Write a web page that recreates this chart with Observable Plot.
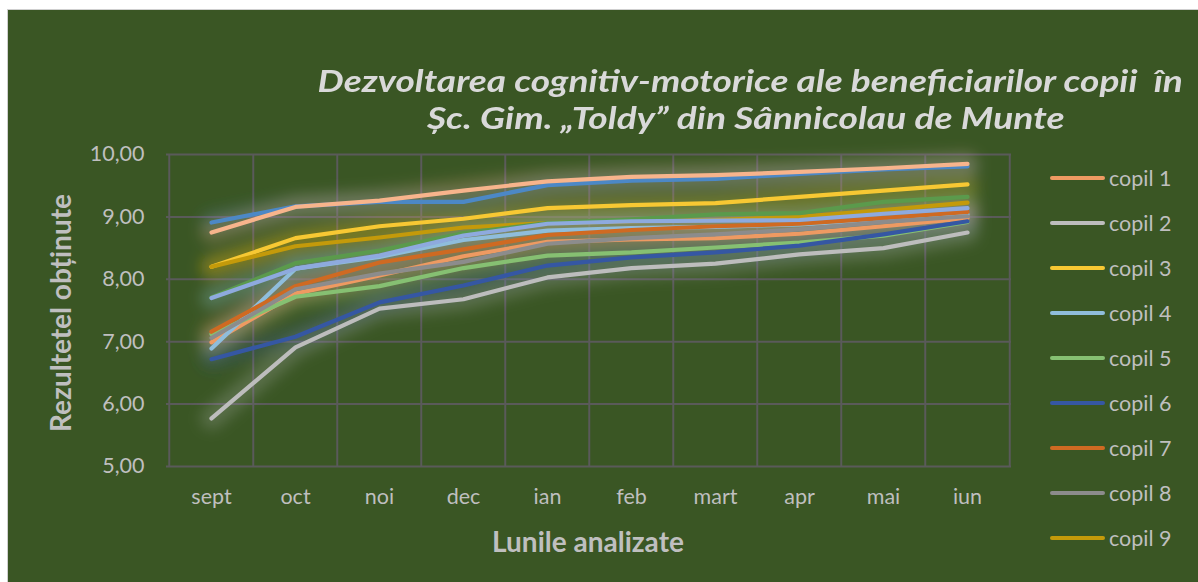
<!DOCTYPE html>
<html>
<head>
<meta charset="utf-8">
<script src="https://cdn.jsdelivr.net/npm/d3@7"></script>
<script src="https://cdn.jsdelivr.net/npm/@observablehq/plot@0.6"></script>
<style>
  html, body { margin: 0; padding: 0; background: #ffffff; }
  body { width: 1198px; height: 582px; overflow: hidden; position: relative; font-family: Lato, "Open Sans", sans-serif; }
  #chart { position: absolute; left: 7px; top: 9px; width: 1191px; height: 573px; background: #3a5624;
           border-left: 1px solid #cfcfcf; border-top: 1px solid #cfcfcf; box-sizing: border-box; }
  #plot { position: absolute; left: 0; top: 0; }
  .tline { position: absolute; color: #d9d9d9; font-size: 31px; font-weight: bold; font-style: italic;
           white-space: nowrap; line-height: 37px; transform-origin: 50% 50%; }
  .axtitle { position: absolute; color: #bfbfbf; font-size: 28px; font-weight: bold; white-space: nowrap;
             transform: translate(-50%, -50%); }
  #ytitle { left: 52px; top: 303px; transform: translate(-50%, -50%) rotate(-90deg); }
  #xtitle { left: 580px; top: 531px; }
  .leg { position: absolute; left: 1042px; height: 26px; display: flex; align-items: center; color: #bfbfbf; font-size: 21.5px; }
  .leg .sw { width: 55px; height: 4px; border-radius: 2px; margin-right: 4px; }
</style>
</head>
<body>
<div id="chart">
  <div id="plot"></div>
  <div id="t1" class="tline">Dezvoltarea cognitiv-motorice ale beneficiarilor copii &nbsp;în</div>
  <div id="t2" class="tline">Șc. Gim. „Toldy” din Sânnicolau de Munte</div>
  <div id="ytitle" class="axtitle">Rezultetel obținute</div>
  <div id="xtitle" class="axtitle">Lunile analizate</div>
</div>
<script>
// ---- data ----
const months = ["sept", "oct", "noi", "dec", "ian", "feb", "mart", "apr", "mai", "iun"];
const yTicks = [5, 6, 7, 8, 9, 10];

const copil1  = [6.99, 7.77, 8.06, 8.37, 8.60, 8.64, 8.66, 8.73, 8.85, 8.98];
const copil2  = [5.77, 6.91, 7.53, 7.68, 8.03, 8.18, 8.25, 8.40, 8.50, 8.75];
const copil3  = [8.20, 8.66, 8.85, 8.97, 9.14, 9.19, 9.22, 9.32, 9.42, 9.52];
const copil4  = [6.89, 8.17, 8.36, 8.63, 8.78, 8.82, 8.84, 8.88, 8.96, 9.04];
const copil5  = [7.12, 7.72, 7.89, 8.18, 8.38, 8.43, 8.51, 8.59, 8.70, 8.92];
const copil6  = [6.72, 7.08, 7.63, 7.90, 8.22, 8.35, 8.43, 8.54, 8.72, 8.93];
const copil7  = [7.16, 7.89, 8.27, 8.48, 8.71, 8.79, 8.85, 8.89, 8.98, 9.08];
const copil8  = [7.06, 7.84, 8.09, 8.28, 8.57, 8.66, 8.72, 8.80, 8.92, 9.01];
const copil9  = [8.20, 8.53, 8.67, 8.83, 8.90, 8.93, 8.95, 9.00, 9.11, 9.23];
const copil10 = [8.91, 9.17, 9.24, 9.24, 9.51, 9.58, 9.61, 9.69, 9.76, 9.81];
const copil11 = [7.71, 8.26, 8.46, 8.74, 8.90, 8.96, 9.04, 9.06, 9.24, 9.32];
const copil12 = [7.70, 8.17, 8.38, 8.70, 8.89, 8.93, 8.94, 8.95, 9.05, 9.14];
const copil13 = [8.75, 9.16, 9.26, 9.42, 9.57, 9.64, 9.67, 9.72, 9.78, 9.85];

const seriesNames = ["copil 1", "copil 2", "copil 3", "copil 4", "copil 5", "copil 6", "copil 7",
                     "copil 8", "copil 9", "copil 10", "copil 11", "copil 12", "copil 13"];
const seriesValues = [copil1, copil2, copil3, copil4, copil5, copil6, copil7,
                      copil8, copil9, copil10, copil11, copil12, copil13];
const seriesColors = ["#ee9a62", "#bdbdbd", "#f7c833", "#8fbddb", "#86c072", "#3557a3", "#cf6a22",
                      "#8c8c8c", "#c49a0a", "#4c88c6", "#5b9a4c", "#8eaade", "#f7b48c"];
const legendNames = seriesNames.slice(0, 9);

// ---- table built from the arrays ----
const rows = [];
seriesNames.forEach((name, i) => {
  months.forEach((m, j) => rows.push({ name, month: m, value: seriesValues[i][j] }));
});

const W = 1190, H = 572, ML = 158, MR = 187, MT = 144, MB = 116;
const step = (W - ML - MR) / months.length;
const grid = "#5a5a5a";
const fmt = d => d.toFixed(2).replace(".", ",");

const chart = Plot.plot({
  width: W, height: H,
  marginLeft: ML, marginRight: MR, marginTop: MT, marginBottom: MB,
  style: { background: "transparent", color: "#bfbfbf", fontFamily: "Lato, 'Open Sans', sans-serif", fontSize: "21.5px", overflow: "visible" },
  x: { type: "point", domain: months, padding: 0.5, label: null, tickSize: 0, tickPadding: 22 },
  y: { domain: [5, 10], ticks: yTicks, tickFormat: fmt, label: null, tickSize: 0, tickPadding: 22 },
  color: { domain: seriesNames, range: seriesColors },
  marks: [
    Plot.ruleY(yTicks, { stroke: grid, strokeWidth: 2 }),
    Plot.ruleX(months, { stroke: grid, strokeWidth: 2, dx: -step / 2 }),
    Plot.ruleX(months.slice(-1), { stroke: grid, strokeWidth: 2, dx: step / 2 }),
    Plot.line(rows, { x: "month", y: "value", z: "name", stroke: "name", strokeWidth: 22, strokeOpacity: 0.24 }),
    Plot.line(rows, { x: "month", y: "value", z: "name", stroke: "name", strokeWidth: 4.2, strokeLinecap: "round", strokeLinejoin: "round" })
  ]
});
document.getElementById("plot").appendChild(chart);

// soft glow: blur the wide translucent layer
const svg = d3.select(chart);
svg.insert("defs", ":first-child").html('<filter id="glow" x="-20%" y="-20%" width="140%" height="140%"><feGaussianBlur stdDeviation="7"/></filter>');
const lineGroups = svg.selectAll('g[aria-label="line"]').nodes();
if (lineGroups.length) d3.select(lineGroups[0]).attr("filter", "url(#glow)");

// title lines: centred at x=742, fitted to the reference widths
function placeTitle(id, cx, cy, targetW) {
  const el = document.getElementById(id);
  const w = el.offsetWidth;
  el.style.left = (cx - w / 2) + "px";
  el.style.top = (cy - 18.5) + "px";
  el.style.transform = `scaleX(${targetW / w})`;
}
placeTitle("t1", 742, 70, 865);
placeTitle("t2", 737, 107, 637);

// legend
const chartDiv = document.getElementById("chart");
legendNames.forEach((name, i) => {
  const d = document.createElement("div");
  d.className = "leg";
  d.style.top = (168 + 45 * i - 13) + "px";
  d.innerHTML = `<span class="sw" style="background:${seriesColors[i]}"></span><span>${name}</span>`;
  chartDiv.appendChild(d);
});
</script>
</body>
</html>
